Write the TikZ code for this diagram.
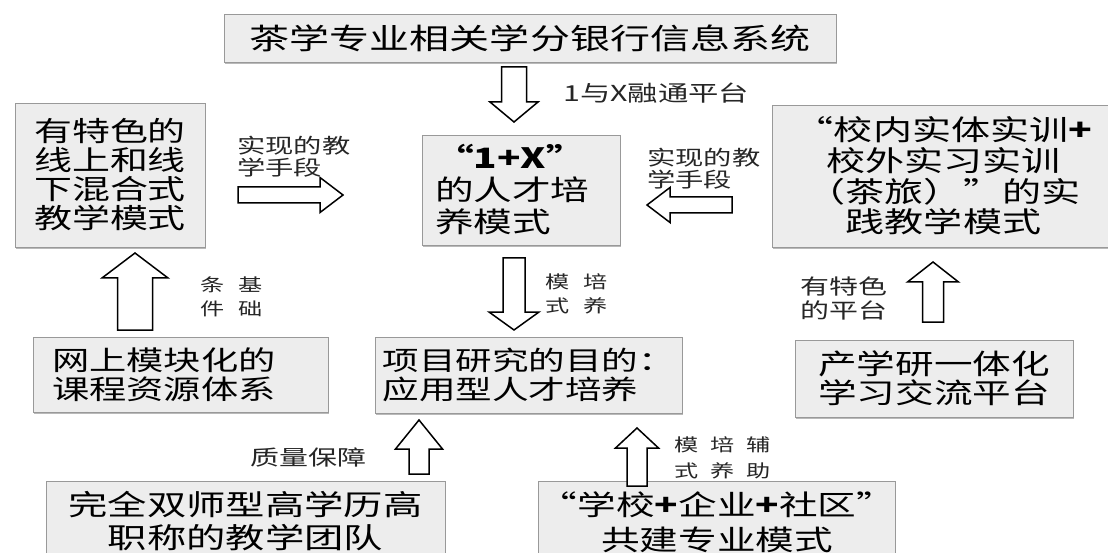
\documentclass[tikz,border=0pt]{standalone}
\usepackage{fontspec}
\setmainfont{Noto Sans CJK SC}[FakeStretch=1.38]
\usetikzlibrary{calc,shadows}
\tikzset{
  box/.style={draw=black!40, line width=0.9pt, fill=black!7, inner sep=0pt, text=black,
    drop shadow={shadow xshift=1.2pt, shadow yshift=-2.4pt, opacity=0.55}},
  lbl/.style={inner sep=0pt, anchor=west, align=left, text=black!85},
  blockarrow/.style={draw=black, fill=white, line width=1.5pt, line join=miter},
}
\newcommand\barrow[5]{%
  \coordinate (ba-h) at ($(#2)!#5pt!(#1)$);
  \draw[blockarrow] ($(#1)!#3pt!90:(#2)$) -- ($(ba-h)!#3pt!90:(#2)$) -- ($(ba-h)!#4pt!90:(#2)$)
    -- (#2) -- ($(ba-h)!#4pt!-90:(#2)$) -- ($(ba-h)!#3pt!-90:(#2)$) -- ($(#1)!#3pt!-90:(#2)$) -- cycle;}
\begin{document}
\begin{tikzpicture}[x=1pt,y=1pt]
\useasboundingbox (0,0) rectangle (1108,-553);
\fill[white] (0,0) rectangle (1108,-553);
\clip (0,0) rectangle (1108,-553);

% boxes
\node[box, minimum width=612pt, minimum height=48pt, font=\fontsize{29}{31}\selectfont] (top) at (530,-38) {茶学专业相关学分银行信息系统};
\node[box, minimum width=190pt, minimum height=144pt, align=center, font=\fontsize{27.5}{29}\selectfont] (lt) at (110,-175) {有特色的\\线上和线\\下混合式\\教学模式};
\node[box, minimum width=198pt, minimum height=110pt, text width=172pt, align=left, font=\fontsize{28}{32}\selectfont] (cx) at (521,-190) {{\bfseries “1+X”}\\的人才培\\养模式};
\node[box, minimum width=343pt, minimum height=142pt, align=center, font=\fontsize{28.3}{30.7}\selectfont] (rt) at (943.5,-176) {“校内实体实训{\bfseries +}\\校外实习实训\\（茶旅）”的实\\践教学模式};
\node[box, minimum width=295pt, minimum height=75pt, text width=257pt, align=left, font=\fontsize{27}{29}\selectfont] (ml) at (180.5,-374.5) {网上模块化的\\课程资源体系};
\node[box, minimum width=307pt, minimum height=76pt, text width=292pt, align=left, font=\fontsize{26.5}{28.5}\selectfont] (mc) at (528.5,-375) {项目研究的目的：\\应用型人才培养};
\node[box, minimum width=278pt, minimum height=77pt, align=center, font=\fontsize{28}{29}\selectfont] (mr) at (934,-378.5) {产学研一体化\\学习交流平台};
\node[box, minimum width=399pt, minimum height=81pt, align=center, font=\fontsize{28.5}{33}\selectfont] (bl) at (245.5,-521.5) {完全双师型高学历高\\职称的教学团队};
\node[box, minimum width=356pt, minimum height=82pt, align=center, font=\fontsize{28}{35}\selectfont] (br) at (717,-522) {“学校{\bfseries +}企业{\bfseries +}社区”\\共建专业模式};

% arrow end points
\coordinate (a1s) at (514,-67);  \coordinate (a1e) at (514,-122);
\coordinate (a2s) at (238,-195); \coordinate (a2e) at (343,-195);
\coordinate (a3s) at (732,-205); \coordinate (a3e) at (647,-205);
\coordinate (a4s) at (514,-258); \coordinate (a4e) at (514,-330);
\coordinate (a5s) at (135,-330); \coordinate (a5e) at (135,-253);
\coordinate (a6s) at (933,-322); \coordinate (a6e) at (933,-262);
\coordinate (a7s) at (419,-474); \coordinate (a7e) at (419,-420);
\coordinate (a8s) at (637,-486); \coordinate (a8e) at (637,-428);

\barrow{a1s}{a1e}{12.5}{24}{20}
\barrow{a2s}{a2e}{8}{17.5}{23}
\barrow{a3s}{a3e}{8}{17.5}{23}
\barrow{a4s}{a4e}{11}{25}{18}
\barrow{a5s}{a5e}{17.5}{33}{25}
\barrow{a6s}{a6e}{10.5}{25.5}{20}
\barrow{a7s}{a7e}{10}{23.5}{29}
\barrow{a8s}{a8e}{10}{21.5}{20}

% labels
\node[lbl, font=\fontsize{22}{24}\selectfont] (l1) at (563,-93) {1与X融通平台};
\node[lbl, font=\fontsize{20.5}{22}\selectfont] (l2) at (237,-156.5) {实现的教\\学手段};
\node[lbl, font=\fontsize{20.5}{22}\selectfont] (l3) at (647,-168.5) {实现的教\\学手段};
\node[lbl, font=\fontsize{17.5}{24}\selectfont] (l4) at (200,-297) {条\hspace{14pt}基\\件\hspace{14pt}础};
\node[lbl, font=\fontsize{17.5}{24}\selectfont] (l5) at (545,-294) {模\hspace{14pt}培\\式\hspace{14pt}养};
\node[lbl, font=\fontsize{21}{24}\selectfont] (l6) at (800,-298) {有特色\\的平台};
\node[lbl, font=\fontsize{21}{24}\selectfont] (l7) at (250,-457) {质量保障};
\node[lbl, font=\fontsize{17.5}{26}\selectfont] (l8) at (674,-458) {模\hspace{12pt}培\hspace{12pt}辅\\式\hspace{12pt}养\hspace{12pt}助};
\end{tikzpicture}
\end{document}
